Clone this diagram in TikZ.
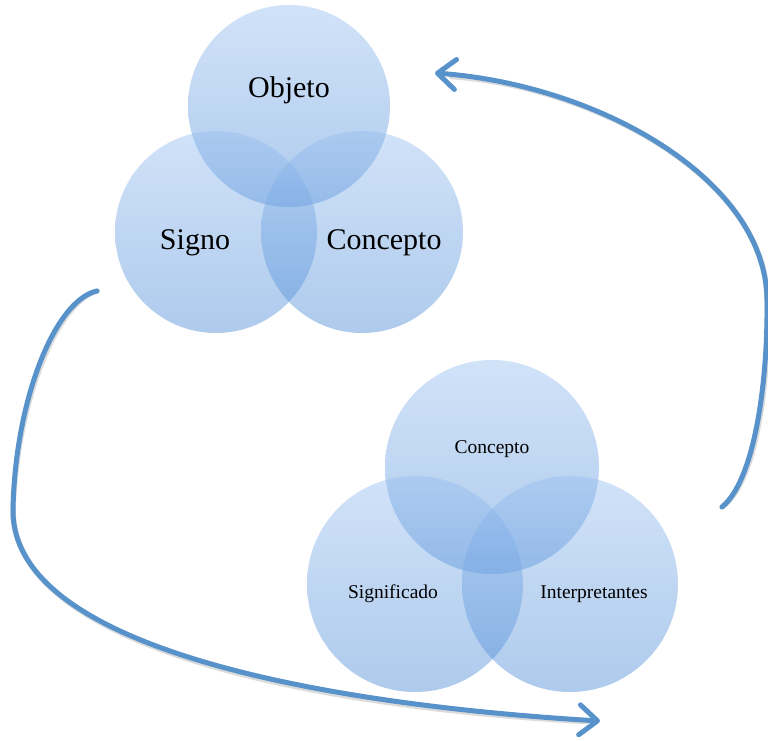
\documentclass[tikz,border=0pt]{standalone}
\usepackage{fontspec}
\setmainfont{Liberation Serif}
\usetikzlibrary{arrows.meta}
\definecolor{ctop}{RGB}{150,190,240}
\definecolor{cbot}{RGB}{70,135,212}
\definecolor{arrowblue}{RGB}{88,146,203}
\begin{document}
\begin{tikzpicture}[x=1pt,y=-1pt,
  venn/.style={circle, minimum size=#1, inner sep=0pt, draw=none,
    top color=ctop, bottom color=cbot, fill opacity=0.44},
  big/.style={font=\fontsize{30}{36}\selectfont, anchor=base, inner sep=0pt},
  small/.style={font=\fontsize{19.5}{23}\selectfont, anchor=base, inner sep=0pt},
  cyc/.style={draw=arrowblue, line width=5pt, line cap=round,
    -{Straight Barb[length=18pt,width=30pt,round]}},
  cycshadow/.style={draw=black, draw opacity=0.14, line width=5.5pt, line cap=round}
]
\useasboundingbox (0,0) rectangle (768,740);
% top diagram
\node[venn=202pt] (objC) at (289,106) {};
\node[venn=202pt] (sigC) at (216,232) {};
\node[venn=202pt] (conC) at (362,232) {};
% bottom diagram
\node[venn=214pt] (conB) at (492,467) {};
\node[venn=216pt] (sigB) at (415,584) {};
\node[venn=216pt] (intB) at (570,584) {};
% labels
\node[big] (objeto) at (289,97) {Objeto};
\node[big] (signo) at (195,249) {Signo};
\node[big] (concepto1) at (384,249) {Concepto};
\node[small] (concepto2) at (492,453) {Concepto};
\node[small] (significado) at (393,598) {Significado};
\node[small] (interp) at (594,598) {Interpretantes};
% arrow end points
\coordinate (lstart) at (97,291);
\coordinate (lmid) at (13,510);
\coordinate (lend) at (600,721);
\coordinate (rstart) at (722,507);
\coordinate (rmid) at (767,300);
\coordinate (rend) at (435,73);
% shadows
\begin{scope}[shift={(1.5,2.5)}]
\draw[cycshadow] (lstart) .. controls (55,300) and (15,400) .. (lmid)
  .. controls (12,650) and (330,705) .. (585,719);
\draw[cycshadow] (rstart) .. controls (755,480) and (768,380) .. (rmid)
  .. controls (766,180) and (600,85) .. (450,74);
\end{scope}
% arrows
\draw[cyc] (lstart) .. controls (55,300) and (15,400) .. (lmid)
  .. controls (12,650) and (330,705) .. (lend);
\draw[cyc] (rstart) .. controls (755,480) and (768,380) .. (rmid)
  .. controls (766,180) and (600,85) .. (rend);
\end{tikzpicture}
\end{document}
